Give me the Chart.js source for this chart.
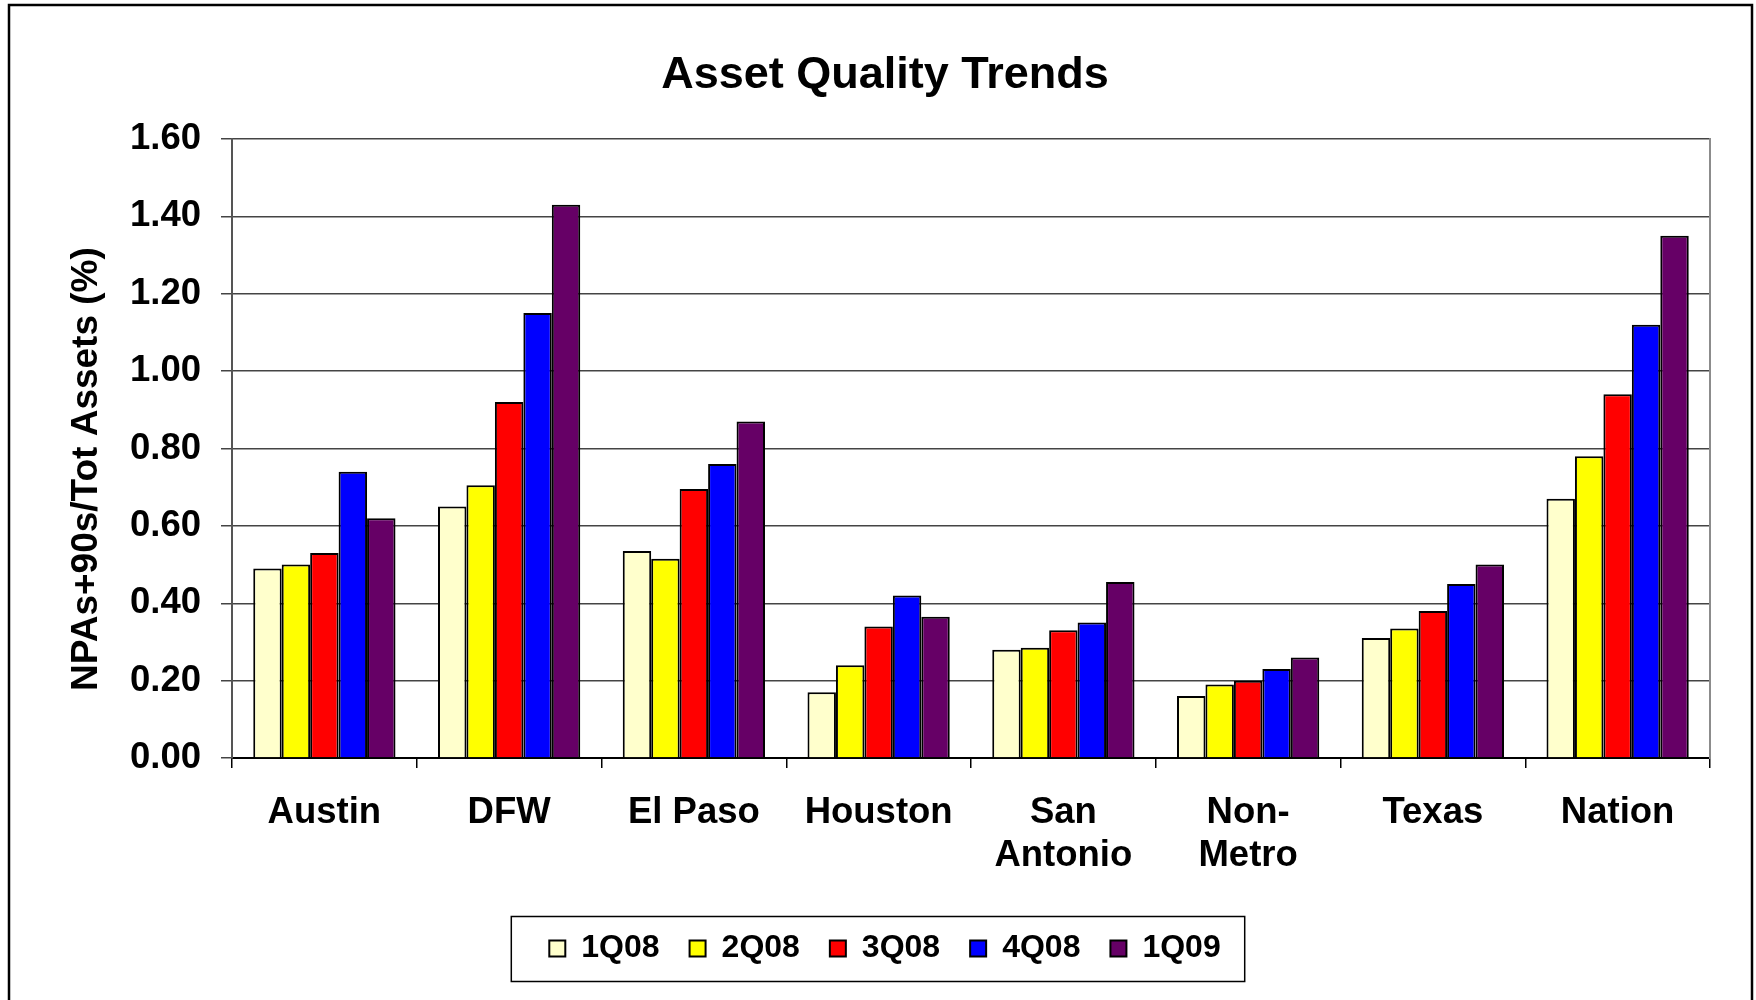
<!DOCTYPE html>
<html>
<head>
<meta charset="utf-8">
<title>Asset Quality Trends</title>
<script src="https://cdn.jsdelivr.net/npm/chart.js@4.4.1/dist/chart.umd.min.js"></script>
<style>
    html, body { margin: 0; padding: 0; background: #fff; }
    #wrap { position: relative; width: 1756px; height: 1000px; }
</style>
</head>
<body>
<div id="wrap"><canvas id="assetChart"></canvas></div>
<script>
"use strict";

const regions = ['Austin', 'DFW', 'El Paso', 'Houston', ['San', 'Antonio'], ['Non-', 'Metro'], 'Texas', 'Nation'];

const q1_08 = [0.49, 0.65, 0.535, 0.17, 0.28, 0.16, 0.31, 0.67];
const q2_08 = [0.50, 0.705, 0.515, 0.24, 0.285, 0.19, 0.335, 0.78];
const q3_08 = [0.53, 0.92, 0.695, 0.34, 0.33, 0.20, 0.38, 0.94];
const q4_08 = [0.74, 1.15, 0.76, 0.42, 0.35, 0.23, 0.45, 1.12];
const q1_09 = [0.62, 1.43, 0.87, 0.365, 0.455, 0.26, 0.50, 1.35];

const yTicks = [0, 0.2, 0.4, 0.6, 0.8, 1.0, 1.2, 1.4, 1.6];

const FONT = '"Liberation Sans", Arial, Helvetica, sans-serif';

// outer frame and the box around the legend
const framePlugin = {
    id: 'frame',
    afterDraw(chart) {
        const { ctx } = chart;
        ctx.save();
        ctx.strokeStyle = '#000';
        ctx.lineWidth = 2.5;
        ctx.strokeRect(9, 5, 1743, 1200);

        const boxes = chart.legend.legendHitBoxes;
        if (boxes && boxes.length) {
            const first = boxes[0];
            const last = boxes[boxes.length - 1];
            const mid = first.top + first.height / 2;
            ctx.lineWidth = 1.5;
            ctx.strokeRect(first.left - 38, mid - 32, (last.left + last.width + 24) - (first.left - 38), 65);
        }
        ctx.restore();
    }
};

const datasets = [
    { label: '1Q08', data: q1_08, backgroundColor: '#FFFFCC' },
    { label: '2Q08', data: q2_08, backgroundColor: '#FFFF00' },
    { label: '3Q08', data: q3_08, backgroundColor: '#FF0000' },
    { label: '4Q08', data: q4_08, backgroundColor: '#0000FF' },
    { label: '1Q09', data: q1_09, backgroundColor: '#660066' }
].map(d => Object.assign(d, {
    borderColor: '#000',
    borderWidth: 2,
    categoryPercentage: 0.77,
    barPercentage: 1.0
}));

new Chart(document.getElementById('assetChart'), {
    type: 'bar',
    data: {
        labels: regions,
        datasets: datasets
    },
    plugins: [framePlugin],
    options: {
        responsive: true,
        maintainAspectRatio: false,
        animation: false,
        layout: {
            padding: { left: 14, right: 0, top: 0, bottom: 25.5 }
        },
        plugins: {
            title: {
                display: true,
                text: 'Asset Quality Trends',
                color: '#000',
                font: { family: FONT, size: 45, weight: 'bold', lineHeight: 1.2 },
                padding: { top: 48.5, bottom: 36.5 }
            },
            legend: {
                position: 'bottom',
                labels: {
                    color: '#000',
                    boxWidth: 16,
                    boxHeight: 16,
                    padding: 30,
                    font: { family: FONT, size: 32, weight: 'bold' }
                }
            },
            tooltip: { enabled: false }
        },
        scales: {
            x: {
                grid: {
                    offset: true,
                    drawOnChartArea: false,
                    drawTicks: true,
                    tickLength: 10,
                    color: '#000',
                    lineWidth: 1.5
                },
                border: { color: '#000', width: 2 },
                ticks: {
                    color: '#000',
                    padding: 23,
                    maxRotation: 0,
                    autoSkip: false,
                    font: { family: FONT, size: 36.5, weight: 'bold', lineHeight: 1.19 }
                },
                afterFit(scale) {
                    scale.height = 144.5;
                }
            },
            y: {
                min: 0,
                max: 1.6,
                afterBuildTicks(scale) {
                    scale.ticks = yTicks.map(v => ({ value: v }));
                },
                ticks: {
                    color: '#000',
                    padding: 20,
                    font: { family: FONT, size: 36.5, weight: 'bold' },
                    callback: v => Number(v).toFixed(2)
                },
                grid: {
                    color: '#444',
                    lineWidth: 1.5,
                    tickLength: 11
                },
                border: { color: '#555', width: 2 },
                title: {
                    display: true,
                    text: 'NPAs+90s/Tot Assets (%)    ',
                    color: '#000',
                    font: { family: FONT, size: 37, weight: 'bold', lineHeight: 1.2 },
                    padding: { top: 51, bottom: 0 }
                },
                afterFit(scale) {
                    scale.width = 218;
                }
            },
            // empty right-hand axis: only gives the plot its grey right edge
            yRight: {
                position: 'right',
                min: 0,
                max: 1.6,
                ticks: { display: false },
                grid: { drawOnChartArea: false, drawTicks: false },
                border: { color: '#8c8c8c', width: 2 },
                afterFit(scale) {
                    scale.width = 46;
                }
            }
        }
    }
});
</script>
</body>
</html>
